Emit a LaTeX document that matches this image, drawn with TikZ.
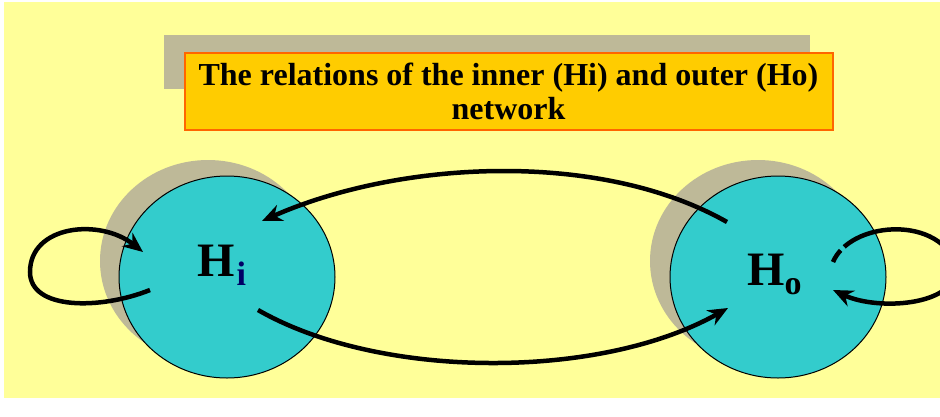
\documentclass[tikz,border=0pt]{standalone}
\usepackage{fontspec}
\setmainfont{Liberation Serif}
\usetikzlibrary{arrows.meta,shapes.geometric}
\definecolor{bgyellow}{RGB}{255,255,153}
\definecolor{teal}{RGB}{51,204,204}
\definecolor{boxorange}{RGB}{255,204,0}
\definecolor{boxedge}{RGB}{255,102,0}
\definecolor{shadowgray}{RGB}{190,185,152}
\definecolor{subnavy}{RGB}{0,0,102}
\tikzset{
  bubble/.style={ellipse, draw=black, line width=1pt, fill=teal, minimum width=216pt, minimum height=202pt, inner sep=0pt},
  bubshadow/.style={ellipse, fill=shadowgray, minimum width=216pt, minimum height=202pt, inner sep=0pt},
  lbl/.style={font=\fontsize{48}{48}\selectfont\bfseries, anchor=base west, inner sep=0pt},
  rel/.style={line width=4.5pt, -{Stealth[length=20pt,width=17pt]}},
}
\newcommand{\lowsub}[1]{\raisebox{-9pt}{\fontsize{34}{34}\selectfont\bfseries #1}}
\begin{document}
\begin{tikzpicture}[x=1pt,y=-1pt]
\useasboundingbox (0,0) rectangle (940,416);
\fill[white] (0,0) rectangle (940,416);
\fill[bgyellow] (4,2) rectangle (940,398);
% title
\fill[shadowgray] (164,35) rectangle (810,89);
\node[draw=boxedge, line width=2pt, fill=boxorange, minimum width=648pt, minimum height=77pt, inner sep=0pt,
  align=center, font=\fontsize{32}{34}\selectfont\bfseries] (title) at (508.5,91)
  {The relations of the inner (Hi) and outer (Ho)\\network};
% bubbles
\node[bubshadow] (Hish) at (208,261) {};
\node[bubshadow] (Hosh) at (758,261) {};
\node[bubble] (Hi) at (227,277) {};
\node[bubble] (Ho) at (778,277) {};
\node[lbl] (Hilbl) at (197,276) {H\kern2pt\lowsub{\color{subnavy}i}};
\node[lbl] (Holbl) at (747,285) {H\lowsub{o}};
% arrows
\draw[rel] ([shift={(-51,-55)}]Ho.center) .. controls (600,150) and (400,160) .. ([shift={(35,-56)}]Hi.center);
\draw[rel] ([shift={(31,33)}]Hi.center) .. controls (380,380) and (600,380) .. ([shift={(-50,31)}]Ho.center);
\draw[rel] ([shift={(-77,13)}]Hi.center) .. controls (100,310) and (30,310) .. (30,272)
  .. controls (30,225) and (100,218) .. ([shift={(-84,-25)}]Hi.center);
\draw[rel, dash pattern={on 14pt off 5pt on 2000pt}] ([shift={(55,-15)}]Ho.center) .. controls (850,222) and (935,215) .. (955,262)
  .. controls (965,305) and (880,312) .. ([shift={(55,13)}]Ho.center);
\end{tikzpicture}
\end{document}
